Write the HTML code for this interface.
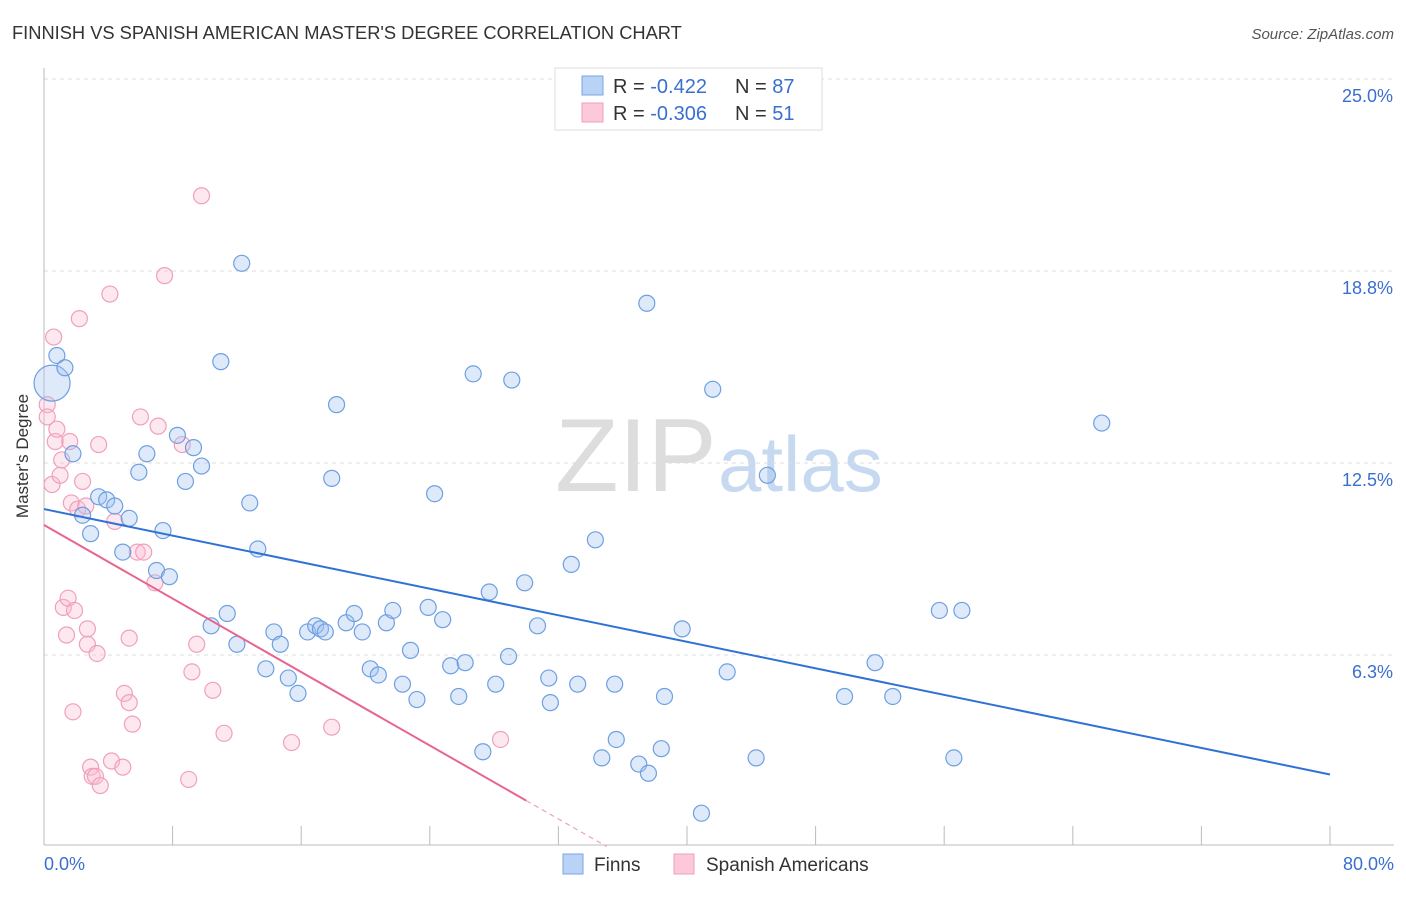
<!DOCTYPE html>
<html><head><meta charset="utf-8">
<style>
body{margin:0;background:#fff;font-family:"Liberation Sans",sans-serif;}
svg text{font-family:"Liberation Sans",sans-serif;}
</style></head>
<body>
<svg id="chart" width="1406" height="892" viewBox="0 0 1406 892">
<text x="12" y="39" font-size="18.3" fill="#333">FINNISH VS SPANISH AMERICAN MASTER'S DEGREE CORRELATION CHART</text>
<text x="1394" y="39" font-size="15" fill="#555" font-style="italic" text-anchor="end">Source: ZipAtlas.com</text>
<g><text x="555" y="491" font-size="104" fill="#ddd" font-family="Liberation Serif">ZIP</text><text x="718" y="491" font-size="78" fill="#c6d9f0">atlas</text></g>
<g id="grid"></g>
<g id="axes"></g>
<g id="pts"></g>
<g id="trends"></g>
<text x="28" y="456" font-size="17" fill="#333" text-anchor="middle" transform="rotate(-90 28 456)">Master's Degree</text>
<g>
<rect x="555" y="68" width="267" height="62" fill="#fff" stroke="#ddd"/>
<rect x="582" y="76" width="21" height="19" fill="#b8d3f5" stroke="#7aa6e2"/>
<rect x="582" y="103" width="21" height="19" fill="#fbc9d8" stroke="#f0a0bb"/>
<text x="613" y="93" font-size="20" fill="#333">R = <tspan fill="#3a6fd0">-0.422</tspan><tspan x="735">N = </tspan><tspan fill="#3a6fd0">87</tspan></text>
<text x="613" y="120" font-size="20" fill="#333">R = <tspan fill="#3a6fd0">-0.306</tspan><tspan x="735">N = </tspan><tspan fill="#3a6fd0"> 51</tspan></text>
</g>
<g>
<rect x="563" y="854" width="20" height="20" fill="#b8d3f5" stroke="#7aa6e2"/>
<text x="594" y="871" font-size="19" fill="#333">Finns</text>
<rect x="674" y="854" width="20" height="20" fill="#fbc9d8" stroke="#f0a0bb"/>
<text x="706" y="871" font-size="19" fill="#333">Spanish Americans</text>
</g>
</svg>
<script>
const yTicks=[6.25,12.5,18.75,25];
const yTickLabels=["6.3%","12.5%","18.8%","25.0%"];
const xTickLabels=["0.0%","80.0%"];
const finnsX=[0.5,0.8,1.3,1.8,2.4,2.9,3.4,3.9,4.4,4.9,5.3,5.9,6.4,7.0,7.4,7.8,8.3,8.8,9.3,9.8,10.4,11.0,11.4,12.0,12.3,12.8,13.3,13.8,14.3,14.7,15.2,15.8,16.4,16.9,17.2,17.5,17.9,18.2,18.8,19.3,19.8,20.3,20.8,21.3,21.7,22.3,22.8,23.2,23.9,24.3,24.8,25.3,25.8,26.2,26.7,27.3,27.7,28.1,28.9,29.1,29.9,30.7,31.4,31.5,32.8,33.2,34.3,34.7,35.5,35.6,37.0,37.5,37.6,38.4,38.6,39.7,40.9,41.6,42.5,44.3,45.0,49.8,51.7,52.8,55.7,56.6,57.1,65.8];
const finnsY=[15.1,16.0,15.6,12.8,10.8,10.2,11.4,11.3,11.1,9.6,10.7,12.2,12.8,9.0,10.3,8.8,13.4,11.9,13.0,12.4,7.2,15.8,7.6,6.6,19.0,11.2,9.7,5.8,7.0,6.6,5.5,5.0,7.0,7.2,7.1,7.0,12.0,14.4,7.3,7.6,7.0,5.8,5.6,7.3,7.7,5.3,6.4,4.8,7.8,11.5,7.4,5.9,4.9,6.0,15.4,3.1,8.3,5.3,6.2,15.2,8.6,7.2,5.5,4.7,9.2,5.3,10.0,2.9,5.3,3.5,2.7,17.7,2.4,3.2,4.9,7.1,1.1,14.9,5.7,2.9,12.1,4.9,6.0,4.9,7.7,2.9,7.7,13.8];
const spanX=[0.2,0.2,0.5,0.6,0.7,0.8,1.0,1.1,1.2,1.4,1.5,1.6,1.7,1.8,1.9,2.1,2.2,2.4,2.6,2.7,2.7,2.9,3.0,3.2,3.3,3.4,3.5,4.1,4.2,4.4,4.9,5.0,5.3,5.3,5.5,5.8,6.0,6.2,6.9,7.1,7.5,8.6,9.0,9.2,9.5,9.8,10.5,11.2,15.4,17.9,28.4];
const spanY=[14.4,14.0,11.8,16.6,13.2,13.6,12.1,12.6,7.8,6.9,8.1,13.2,11.2,4.4,7.7,11.0,17.2,11.9,11.1,7.1,6.6,2.6,2.3,2.3,6.3,13.1,2.0,18.0,2.8,10.6,2.6,5.0,6.8,4.7,4.0,9.6,14.0,9.6,8.6,13.7,18.6,13.1,2.2,5.7,6.6,21.2,5.1,3.7,3.4,3.9,3.5];
const finnsTrend=[11.0,-0.108];
const spanTrend=[10.48,-0.299];
const NS="http://www.w3.org/2000/svg";
const X=v=>44+v*16.075, Y=v=>847-v*30.72;
function mk(t,a,p){const e=document.createElementNS(NS,t);for(const k in a)e.setAttribute(k,a[k]);p.appendChild(e);return e;}
const grid=document.getElementById('grid'),axes=document.getElementById('axes'),pts=document.getElementById('pts'),tr=document.getElementById('trends');
yTicks.forEach((t,i)=>{
 const l=mk('line',{x1:44,x2:1394,y1:Y(t),y2:Y(t),stroke:'#ddd','stroke-dasharray':'4,4'},grid);
 
 
 const tx=mk('text',{x:1393,y:Y(t)+23,'font-size':18,fill:'#3a6fd0','text-anchor':'end'},axes);
 tx.textContent=yTickLabels[i];
 
 
});
const xa=mk('line',{x1:44,x2:1394,y1:845,y2:845,stroke:'#bbb'},axes);


const ya=mk('line',{x1:44,x2:44,y1:68,y2:845,stroke:'#bbb'},axes);


for(let i=0;i<=10;i++){
 const t=mk('line',{x1:X(i*8),x2:X(i*8),y1:826,y2:845,stroke:'#bbb'},axes);
 
 
}
[[0,'start'],[80,'end']].forEach((d,i)=>{
 const t=mk('text',{x:i?1394:44,y:870,'font-size':18,fill:'#3a6fd0','text-anchor':d[1]},axes);
 t.textContent=xTickLabels[i];
 
 
});
function dots(xs,ys,fill,stroke,name){
 xs.forEach((x,i)=>{
  const r=(name==='finn-point'&&i===0)?18:8;
  const c=mk('circle',{cx:X(x),cy:Y(ys[i]),r:r,fill:fill,stroke:stroke,'stroke-width':1.2},pts);
  
  
 });
}
dots(spanX,spanY,'rgba(248,190,210,0.35)','#f0a0bb','spanish-point');
dots(finnsX,finnsY,'rgba(160,196,240,0.35)','#6e9fe2','finn-point');
const bl=mk('line',{x1:X(0),y1:Y(finnsTrend[0]),x2:X(80),y2:Y(finnsTrend[0]+finnsTrend[1]*80),stroke:'#2f72d6','stroke-width':2},tr);


const pl=mk('line',{x1:X(0),y1:Y(spanTrend[0]),x2:X(30),y2:Y(spanTrend[0]+spanTrend[1]*30),stroke:'#e8658f','stroke-width':2},tr);


const pd=mk('line',{x1:X(30),y1:Y(spanTrend[0]+spanTrend[1]*30),x2:X(35),y2:Y(spanTrend[0]+spanTrend[1]*35),stroke:'#f0a0bb','stroke-width':1.2,'stroke-dasharray':'5,4'},tr);


</script>
</body></html>
